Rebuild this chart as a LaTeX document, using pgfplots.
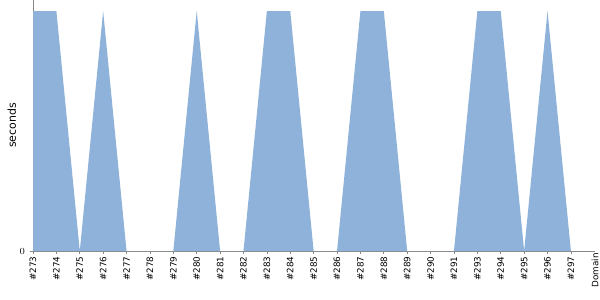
\documentclass[border=0pt]{standalone}
\usepackage{fontspec}
\setmainfont{DejaVu Sans}
\usepackage{pgfplots}
\pgfplotsset{compat=1.18}
\definecolor{areablue}{HTML}{8FB2DA}
\definecolor{axgray}{HTML}{888888}
\begin{document}
\begin{tikzpicture}[x=1pt,y=1pt]
\useasboundingbox (0,0) rectangle (450,225);
\begin{axis}[
  at={(24.75pt,36.75pt)}, anchor=south west,
  scale only axis, width=421.5pt, height=188.25pt,
  xmin=0, xmax=24.03, ymin=0, ymax=1.046,
  axis lines=left,
  axis line style={-, axgray, line width=0.6pt},
  xtick={0,...,23},
  xticklabels={\#273,\#274,\#275,\#276,\#277,\#278,\#279,\#280,\#281,\#282,\#283,\#284,\#285,\#286,\#287,\#288,\#289,\#290,\#291,\#293,\#294,\#295,\#296,\#297},
  extra x ticks={24.03},
  extra x tick labels={Domain},
  extra x tick style={major tick length=0pt},
  x tick label style={rotate=90, anchor=east, font=\fontsize{6.6}{7}\selectfont, inner sep=1.5pt},
  major tick length=2.5pt,
  tick style={axgray, line width=0.5pt},
  tick align=outside,
  ytick={0},
  y tick label style={font=\fontsize{6.8}{7}\selectfont},
  ylabel={seconds},
  ylabel style={font=\fontsize{8.2}{9}\selectfont, at={(axis description cs:0,0.5)}, anchor=south, inner sep=0pt, yshift=12.5pt},
  clip=false,
]
\addplot[fill=areablue, draw=none] coordinates {
(0,1) (1,1) (2,0) (3,1) (4,0) (5,0) (6,0) (7,1) (8,0) (9,0) (10,1) (11,1) (12,0) (13,0) (14,1) (15,1) (16,0) (17,0) (18,0) (19,1) (20,1) (21,0) (22,1) (23,0)
} \closedcycle;
\end{axis}
\end{tikzpicture}
\end{document}
